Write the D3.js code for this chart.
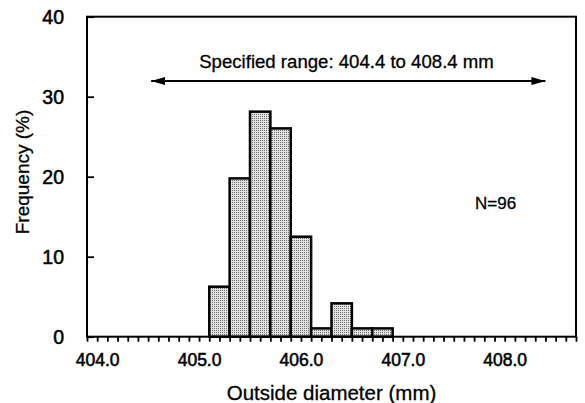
<!DOCTYPE html>
<html>
<head>
<meta charset="utf-8">
<script src="https://cdn.jsdelivr.net/npm/d3@7"></script>
<style>
  html, body { margin: 0; padding: 0; background: #fff; }
  svg { display: block; }
  text { font-family: Arial, "Liberation Sans", Helvetica, sans-serif; fill: #000; stroke: #000; stroke-width: 0.3px; }
  .ticklab text { stroke-width: 0.55px; }
</style>
</head>
<body>
<svg id="chart" width="585" height="403"></svg>
<script>
// ---- data ----
const binStarts = [405.1, 405.3, 405.5, 405.7, 405.9, 406.1, 406.3, 406.5, 406.7];
const binWidth = 0.2;
const frequency = [6.25, 19.79, 28.13, 26.04, 12.5, 1.04, 4.17, 1.04, 1.04];
const xTickLabels = [404.0, 405.0, 406.0, 407.0, 408.0];
const yTickValues = [0, 10, 20, 30, 40];
const arrowEnds = [404.53, 408.4];
const rangeLabel = "Specified range: 404.4 to 408.4 mm";
const nLabel = "N=96";
const xTitle = "Outside diameter (mm)";
const yTitle = "Frequency (%)";

// ---- layout ----
const svg = d3.select("#chart");
const mLeft = 87, mRight = 576, mTop = 16.7, mBottom = 336.7;

const x = d3.scaleLinear().domain([403.9, 408.7]).range([mLeft, mRight]);
const y = d3.scaleLinear().domain([0, 40]).range([mBottom, mTop]);

// pattern for stippled fill
const defs = svg.append("defs");
const pat = defs.append("pattern")
  .attr("id", "stipple").attr("patternUnits", "userSpaceOnUse")
  .attr("width", 2).attr("height", 2);
pat.append("rect").attr("width", 2).attr("height", 2).attr("fill", "#e2e2e2");
pat.append("rect").attr("width", 1).attr("height", 1).attr("fill", "#707070");

// bars
const bars = binStarts.map((s, i) => ({ x0: s, x1: +(s + binWidth).toFixed(2), v: frequency[i] }));
svg.append("g").selectAll("rect").data(bars).join("rect")
  .attr("x", d => x(d.x0))
  .attr("y", d => y(d.v))
  .attr("width", d => x(d.x1) - x(d.x0))
  .attr("height", d => y(0) - y(d.v))
  .attr("fill", "url(#stipple)")
  .attr("stroke", "#000")
  .attr("stroke-width", 2.5);

// x axis (minor ticks every 0.1, outward)
const minorTicks = d3.range(0, 49).map(i => +(403.9 + i * 0.1).toFixed(1));
const xAxis = d3.axisBottom(x).tickValues(minorTicks).tickSize(5).tickFormat("");
const gx = svg.append("g").attr("transform", `translate(0,${mBottom})`).call(xAxis);
gx.select(".domain").remove();
gx.selectAll(".tick line").attr("stroke", "#000").attr("stroke-width", 1.8);

// x tick labels
const xLab = d3.axisBottom(x).tickValues(xTickLabels).tickSize(0).tickPadding(0)
  .tickFormat(d3.format(".1f"));
const gxl = svg.append("g").attr("class", "ticklab").attr("transform", `translate(0,${mBottom})`).call(xLab);
gxl.select(".domain").remove();
gxl.selectAll("text").attr("font-size", "17.5px").attr("dy", null).attr("y", 29.5)
  .style("font-family", "Arial, 'Liberation Sans', sans-serif");

// y axis (ticks inward)
const yAxis = d3.axisLeft(y).tickValues(yTickValues).tickSize(-7).tickPadding(0)
  .tickFormat(d3.format("d"));
const gy = svg.append("g").attr("class", "ticklab").attr("transform", `translate(${mLeft},0)`).call(yAxis);
gy.select(".domain").remove();
gy.selectAll(".tick line").attr("stroke", "#000").attr("stroke-width", 1.8);
gy.selectAll("text").attr("font-size", "19.5px").attr("x", -23).attr("dy", "0.36em")
  .style("font-family", "Arial, 'Liberation Sans', sans-serif");

// frame
svg.append("rect")
  .attr("x", mLeft).attr("y", mTop)
  .attr("width", mRight - mLeft).attr("height", mBottom - mTop)
  .attr("fill", "none").attr("stroke", "#000").attr("stroke-width", 2);

// arrow annotation
const ay = 81;
defs.append("marker").attr("id", "ah").attr("viewBox", "0 0 14 8")
  .attr("refX", 14).attr("refY", 4).attr("markerWidth", 14).attr("markerHeight", 8)
  .attr("markerUnits", "userSpaceOnUse").attr("orient", "auto-start-reverse")
  .append("path").attr("d", "M0,0 L14,4 L0,8 Z").attr("fill", "#000");
svg.append("line")
  .attr("x1", x(arrowEnds[0])).attr("x2", x(arrowEnds[1]))
  .attr("y1", ay).attr("y2", ay)
  .attr("stroke", "#000").attr("stroke-width", 1.8)
  .attr("marker-start", "url(#ah)").attr("marker-end", "url(#ah)");

svg.append("text").attr("x", 346.5).attr("y", 68)
  .attr("text-anchor", "middle").attr("font-size", "18.6px").text(rangeLabel);

svg.append("text").attr("x", 475).attr("y", 208.5)
  .attr("font-size", "17px").text(nLabel);

// axis titles
svg.append("text").attr("x", 331.5).attr("y", 400)
  .attr("text-anchor", "middle").attr("font-size", "20.5px").text(xTitle);
svg.append("text")
  .attr("transform", "translate(29,172) rotate(-90)")
  .attr("text-anchor", "middle").attr("font-size", "19px").text(yTitle);
</script>
</body>
</html>
